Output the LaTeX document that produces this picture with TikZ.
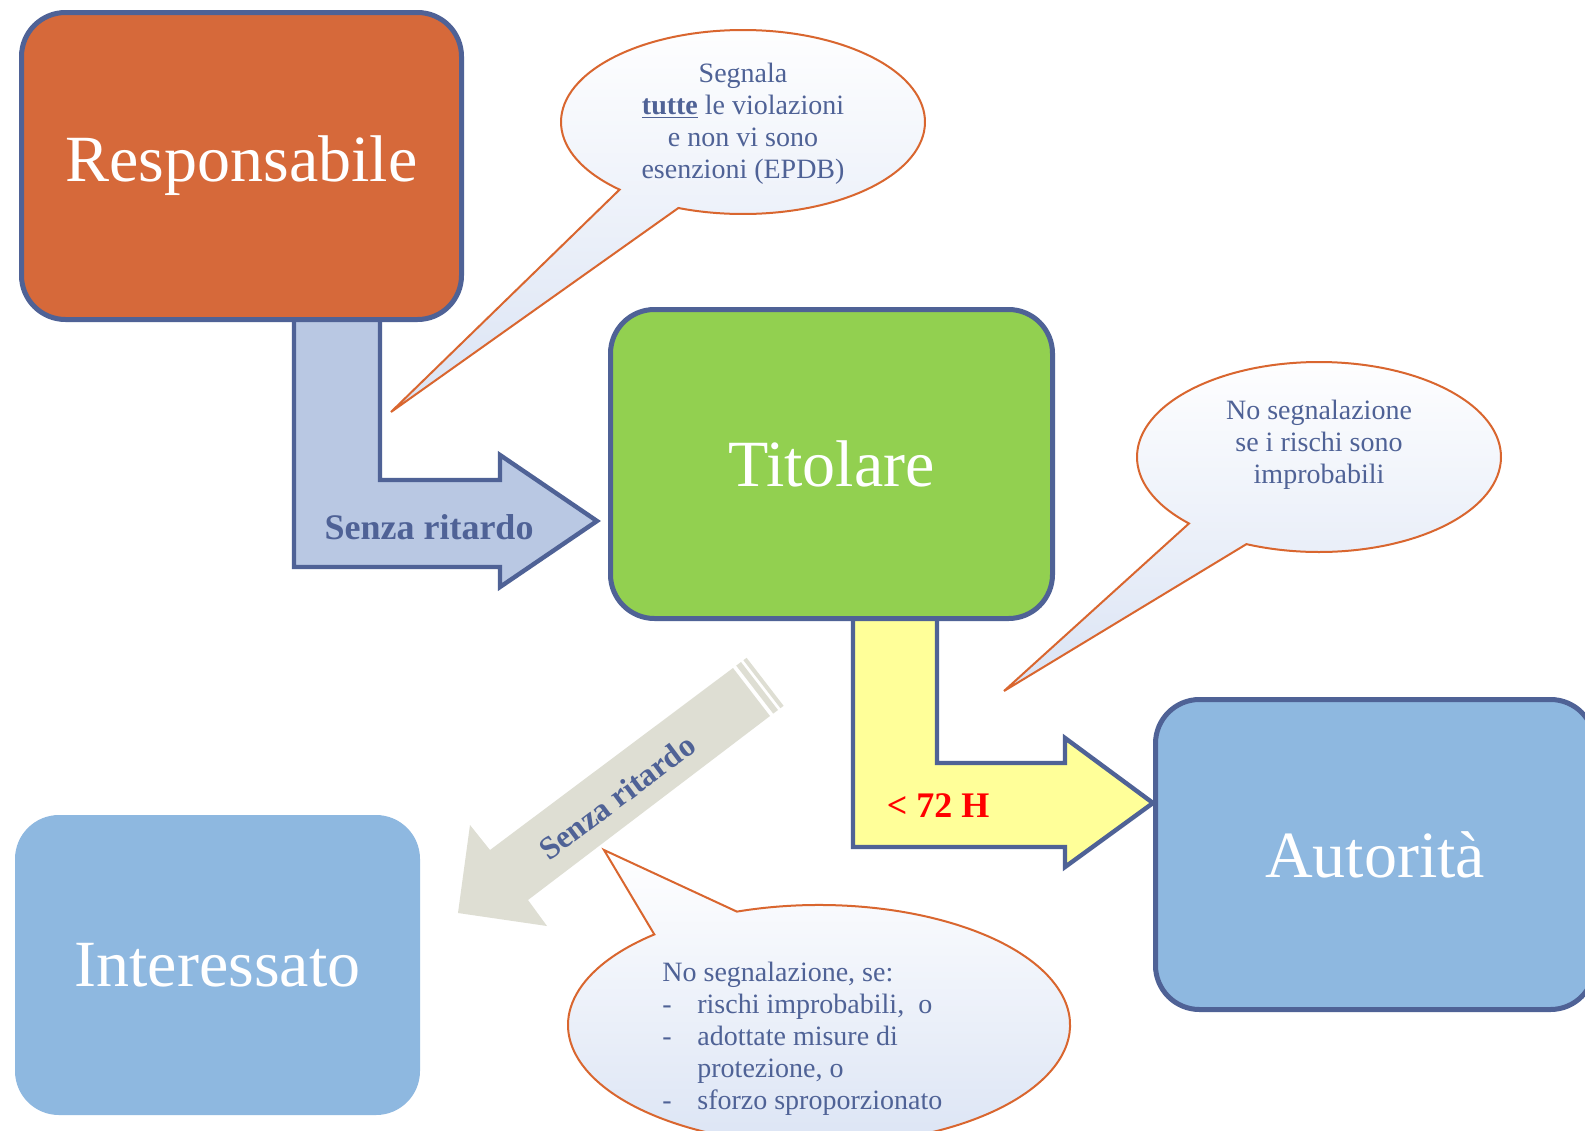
\documentclass[tikz,border=0pt]{standalone}
\usepackage{fontspec}
\setmainfont{Liberation Serif}
\usetikzlibrary{calc}
\definecolor{bordercol}{RGB}{79,98,150}
\definecolor{respfill}{RGB}{214,105,58}
\definecolor{titfill}{RGB}{146,208,80}
\definecolor{autfill}{RGB}{142,184,224}
\definecolor{blufill}{RGB}{185,200,227}
\definecolor{yelfill}{RGB}{255,255,153}
\definecolor{grayfill}{RGB}{222,222,211}
\definecolor{callstroke}{RGB}{217,102,47}
\definecolor{callblue}{RGB}{218,227,244}
\definecolor{txtblue}{RGB}{79,98,150}
\begin{document}
\begin{tikzpicture}[x=0.5pt,y=-0.5pt,
 box/.style={rectangle, rounded corners=22pt, inner sep=0pt, text=white, font=\fontsize{33}{40}\selectfont},
 bordered/.style={draw=bordercol, line width=2.5pt},
 blockarrow/.style={draw=bordercol, line width=2.2pt, line join=miter, miter limit=10},
 callout/.style={draw=callstroke, line width=1pt, top color=white, bottom color=callblue},
 calltext/.style={text=txtblue, font=\fontsize{14}{16}\selectfont, inner sep=0pt},
 arrowlabel/.style={font=\bfseries\fontsize{18}{20}\selectfont, inner sep=0pt, anchor=base}]

\path[use as bounding box, clip] (0,0) rectangle (1585,1130);
\fill[white] (0,0) rectangle (1585,1130);

% blue bent arrow Responsabile -> Titolare
\draw[blockarrow, fill=blufill] (294,318) -- (294,567) -- (500,567) -- (500,587) -- (597,521) -- (500,455) -- (500,480) -- (380,480) -- (380,318) -- cycle;
% yellow bent arrow Titolare -> Autorita
\draw[blockarrow, fill=yelfill] (853,615) -- (853,847) -- (1065,847) -- (1065,867) -- (1153,803) -- (1065,738) -- (1065,763) -- (937,763) -- (937,615) -- cycle;
% gray diagonal arrow Titolare -> Interessato
\fill[grayfill] (733,668) -- (490,850) -- (470,825) -- (458,913) -- (547,926) -- (528,900) -- (770,716) -- cycle;
\fill[grayfill] (736.2,665.6) -- (741,662) -- (778,710) -- (773.2,713.6) -- cycle;
\fill[grayfill] (743.4,660.2) -- (746.6,657.8) -- (783.6,705.8) -- (780.4,708.2) -- cycle;

% boxes
\node[box, bordered, fill=respfill, minimum width=220pt, minimum height=153.5pt] (resp) at (241.5,166) {Responsabile};
\node[box, bordered, fill=titfill, minimum width=221pt, minimum height=154.5pt] (tit) at (831.5,464) {Titolare};
\node[box, bordered, fill=autfill, minimum width=219.5pt, minimum height=155pt] (aut) at (1375,854.5) {Autorità};
\node[box, fill=autfill, minimum width=202.5pt, minimum height=150pt] (int) at (217.5,965) {Interessato};

% arrow labels
\node[arrowlabel, text=txtblue] (lblue) at (429,539) {Senza ritardo};
\node[arrowlabel, text=red] (lyel) at (938,817) {< 72 H};
\node[font=\bfseries\fontsize{16}{18}\selectfont, text=txtblue, rotate=36.87, inner sep=0pt] (lgray) at (617,797) {Senza ritardo};

% callout 1
\coordinate (c1) at (743,122);
\coordinate (t1) at (391,412);
\draw[callout] (t1) -- ($(c1)+(132.7:182 and 92)$) arc[start angle=132.7, end angle=470.8, x radius=182, y radius=92] -- cycle;
\node[calltext, align=center] (s1) at (743,124) {Segnala\\\underline{\textbf{tutte}} le violazioni\\e non vi sono\\esenzioni (EPDB)};

% callout 2
\coordinate (c2) at (1319,457);
\coordinate (t2) at (1004,691);
\draw[callout] (t2) -- ($(c2)+(135.6:182 and 95)$) arc[start angle=135.6, end angle=473.5, x radius=182, y radius=95] -- cycle;
\node[calltext, align=center] (s2) at (1319,445) {No segnalazione\\se i rischi sono\\improbabili};

% callout 3
\coordinate (c3) at (819,1025);
\coordinate (t3) at (604,850);
\draw[callout] (t3) -- ($(c3)+(250.9:251 and 120)$) arc[start angle=250.9, end angle=589, x radius=251, y radius=120] -- cycle;
\node[calltext, align=left, anchor=west] (s3) at (662,1039) {No segnalazione, se:\\\makebox[17.5pt][l]{-}rischi improbabili,\ \ o\\\makebox[17.5pt][l]{-}adottate misure di\\\hspace*{17.5pt}protezione, o\\\makebox[17.5pt][l]{-}sforzo sproporzionato};
\end{tikzpicture}
\end{document}
